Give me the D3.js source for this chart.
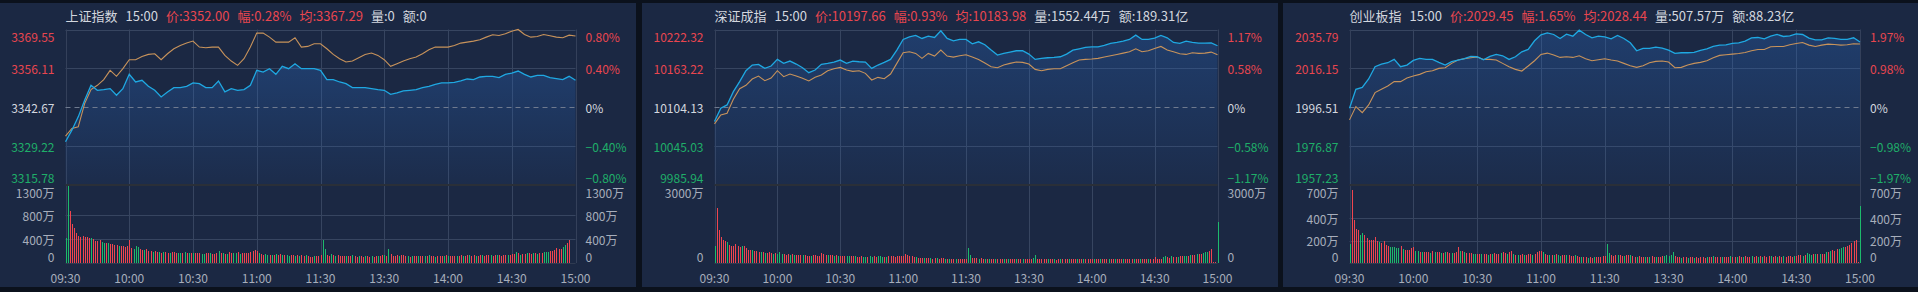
<!DOCTYPE html>
<html>
<head>
<meta charset="utf-8">
<script src="https://cdn.jsdelivr.net/npm/d3@7"></script>
<style>
html, body { margin: 0; padding: 0; background: #0b111c; overflow: hidden; }
svg { display: block; }
text { font-family: "Microsoft YaHei", "Noto Sans CJK SC", sans-serif; }
</style>
</head>
<body>
<svg id="chart"></svg>
<script>
// index names + quote header
const names = ["上证指数", "深证成指", "创业板指"];
const quoteTime = "15:00";
const quotePrice = ["3352.00", "10197.66", "2029.45"];
const quoteChange = ["0.28%", "0.93%", "1.65%"];
const quoteAvg = ["3367.29", "10183.98", "2028.44"];
const quoteVol = ["0", "1552.44万", "507.57万"];
const quoteAmt = ["0", "189.31亿", "88.23亿"];

// x axis: minute index 0..240 (11:30 and 13:00 share one slot)
const timeLabels = ["09:30", "10:00", "10:30", "11:00", "11:30", "13:30", "14:00", "14:30", "15:00"];
const timeTicks = [0, 30, 60, 90, 120, 150, 180, 210, 240];

// price axis ticks (middle one is previous close)
const priceTicks = [
    [3315.78, 3329.22, 3342.67, 3356.11, 3369.55],
    [9985.94, 10045.03, 10104.13, 10163.22, 10222.32],
    [1957.23, 1976.87, 1996.51, 2016.15, 2035.79]
];
// volume ticks, in 万
const volTicks = [[0, 400, 800, 1300], [0, 3000], [0, 200, 400, 700]];

// price / average, sampled every 3 minutes (81 points)
const price1 = [3330.72, 3334.74, 3339.34, 3345.08, 3350.25, 3348.53, 3348.76, 3349.10, 3346.81, 3349.10,
    3354.05, 3351.40, 3351.98, 3349.91, 3348.53, 3346.23, 3347.96, 3349.45, 3349.45, 3349.91,
    3351.06, 3350.83, 3349.45, 3349.45, 3351.75, 3347.96, 3349.10, 3348.53, 3348.76, 3350.25,
    3355.42, 3354.85, 3356.00, 3354.05, 3356.80, 3356.00, 3357.72, 3356.00, 3356.00, 3356.00,
    3355.42, 3352.21, 3352.21, 3351.40, 3350.83, 3349.45, 3349.45, 3349.45, 3349.10, 3348.76,
    3348.53, 3347.15, 3347.61, 3348.30, 3348.53, 3348.76, 3349.45, 3349.91, 3350.60, 3351.06,
    3351.06, 3351.29, 3351.75, 3352.44, 3352.21, 3353.13, 3353.36, 3353.36, 3352.90, 3354.05,
    3354.50, 3355.19, 3354.05, 3353.13, 3353.70, 3353.70, 3352.90, 3352.55, 3352.21, 3353.36,
    3352.00];
const avg1 = [3332.67, 3335.32, 3335.89, 3343.93, 3348.76, 3350.25, 3352.21, 3355.42, 3353.36, 3356.00,
    3359.10, 3359.10, 3360.25, 3360.94, 3361.17, 3359.10, 3361.17, 3362.89, 3364.04, 3364.85,
    3365.54, 3363.47, 3363.24, 3363.47, 3363.47, 3360.59, 3358.64, 3357.15, 3359.45, 3363.47,
    3368.29, 3368.29, 3366.91, 3365.19, 3365.19, 3365.19, 3366.68, 3363.47, 3363.70, 3364.62,
    3364.62, 3362.89, 3360.94, 3359.45, 3358.30, 3358.64, 3359.79, 3360.94, 3361.40, 3360.59,
    3359.10, 3356.80, 3357.72, 3358.64, 3359.45, 3360.02, 3361.17, 3362.55, 3363.47, 3363.47,
    3363.47, 3364.04, 3364.85, 3365.19, 3365.54, 3365.99, 3366.91, 3367.72, 3367.49, 3368.06,
    3368.98, 3369.56, 3367.83, 3366.91, 3367.14, 3367.83, 3367.37, 3366.91, 3366.68, 3367.60,
    3367.29];
const price2 = [10082.41, 10102.61, 10107.67, 10127.87, 10143.02, 10159.69, 10168.28, 10169.29, 10163.23, 10166.76,
    10176.86, 10170.80, 10174.34, 10169.79, 10164.24, 10156.66, 10160.70, 10169.29, 10170.80, 10172.82,
    10175.85, 10170.80, 10174.34, 10173.33, 10172.82, 10163.23, 10168.28, 10172.32, 10176.86, 10191.01,
    10207.17, 10211.21, 10213.23, 10208.69, 10212.22, 10210.20, 10220.30, 10208.69, 10205.15, 10207.17,
    10207.17, 10200.60, 10203.63, 10199.09, 10191.01, 10183.43, 10185.96, 10187.98, 10190.00, 10190.00,
    10184.95, 10176.86, 10178.38, 10179.39, 10179.90, 10180.91, 10184.95, 10191.01, 10193.03, 10195.05,
    10196.06, 10196.06, 10198.08, 10201.11, 10202.62, 10204.64, 10207.17, 10213.74, 10207.17, 10207.17,
    10209.19, 10213.23, 10209.70, 10202.62, 10201.11, 10204.64, 10202.62, 10201.61, 10201.61, 10202.12,
    10197.66];
const avg2 = [10078.87, 10092.51, 10095.04, 10116.25, 10132.42, 10137.47, 10147.06, 10151.61, 10144.54, 10148.58,
    10159.69, 10150.60, 10154.64, 10151.61, 10148.07, 10144.03, 10149.59, 10153.12, 10159.69, 10162.72,
    10164.74, 10160.70, 10158.68, 10159.69, 10155.65, 10145.55, 10149.59, 10147.57, 10154.64, 10170.80,
    10186.97, 10188.48, 10185.96, 10178.38, 10185.96, 10181.92, 10191.01, 10181.92, 10180.40, 10182.42,
    10183.94, 10180.40, 10176.86, 10171.31, 10165.75, 10164.24, 10168.28, 10170.80, 10172.82, 10172.32,
    10169.79, 10161.71, 10159.69, 10161.71, 10162.72, 10162.72, 10167.27, 10171.81, 10175.85, 10176.86,
    10177.37, 10178.38, 10180.40, 10182.42, 10184.44, 10186.46, 10188.48, 10193.03, 10188.48, 10190.00,
    10193.53, 10196.56, 10191.01, 10188.48, 10185.45, 10184.44, 10186.97, 10185.96, 10186.46, 10187.98,
    10183.98];
const price3 = [1996.01, 2005.57, 2006.58, 2010.78, 2016.99, 2018.33, 2019.00, 2020.68, 2016.99, 2017.83,
    2020.18, 2021.19, 2020.68, 2020.68, 2019.17, 2017.83, 2019.51, 2020.35, 2021.02, 2022.19,
    2022.03, 2020.52, 2022.19, 2023.20, 2022.53, 2020.68, 2022.03, 2024.54, 2025.72, 2030.08,
    2033.11, 2034.11, 2033.27, 2031.26, 2033.44, 2032.43, 2035.46, 2033.27, 2031.59, 2032.43,
    2032.10, 2031.09, 2032.77, 2031.26, 2029.08, 2025.05, 2026.22, 2026.22, 2026.89, 2026.39,
    2025.38, 2023.70, 2024.04, 2024.04, 2024.21, 2025.22, 2026.06, 2027.23, 2027.90, 2028.07,
    2028.74, 2029.08, 2029.92, 2031.59, 2031.76, 2031.09, 2032.43, 2033.27, 2032.27, 2032.60,
    2033.61, 2033.27, 2031.43, 2030.59, 2030.59, 2031.59, 2031.26, 2030.76, 2030.76, 2031.59,
    2029.45];
const avg3 = [1990.13, 1996.85, 1993.82, 1997.69, 2003.90, 2005.57, 2007.25, 2009.44, 2009.44, 2011.28,
    2012.29, 2013.13, 2014.47, 2014.98, 2016.15, 2016.49, 2018.67, 2020.35, 2021.02, 2021.52,
    2021.86, 2020.68, 2020.68, 2020.35, 2018.67, 2016.99, 2015.65, 2014.81, 2017.33, 2020.01,
    2023.20, 2023.87, 2022.87, 2021.69, 2022.03, 2021.69, 2022.53, 2021.02, 2020.01, 2020.52,
    2021.02, 2020.35, 2019.84, 2018.67, 2017.49, 2016.65, 2017.49, 2019.00, 2019.68, 2019.84,
    2019.34, 2016.49, 2016.65, 2017.83, 2018.67, 2019.17, 2020.01, 2021.52, 2022.70, 2023.03,
    2023.37, 2023.70, 2024.21, 2025.05, 2025.72, 2025.72, 2027.06, 2027.23, 2027.23, 2028.07,
    2028.74, 2029.24, 2027.90, 2027.23, 2027.90, 2028.41, 2028.24, 2027.90, 2028.07, 2028.57,
    2028.44];

// per-minute volume in 万, 241 values; sign = tick direction (+ up / - down)
const vol1 = [-417,-1290,870,655,585,500,455,440,445,430, 440,420,-410,395,370,360,385,-345,-340,335,
    -330,320,315,300,295,-290,280,275,270,285, 375,255,-240,-280,-265,225,215,-210,230,205,
    195,-190,205,185,-180,175,-185,190,170,-175, 180,185,170,-175,-160,165,-190,175,-165,170,
    -160,175,165,160,-155,-150,165,170,-160,155, 150,165,-200,160,-175,155,-150,185,175,-160,
    -165,180,-150,165,170,175,160,185,205,210, 195,-175,150,140,-145,-135,140,-130,135,-145,
    135,155,-130,125,-140,-120,135,130,-115,125, -120,130,110,-125,115,105,100,-110,115,120,
    125,-390,-230,135,115,-145,130,-110,125,120, 120,115,-120,120,110,-125,115,105,-110,115,
    105,-120,110,100,-115,105,110,-120,115,125, -130,120,-240,150,115,110,125,-120,130,135,
    115,-110,105,-115,120,110,-115,115,120,-110, 110,-125,120,115,-105,120,115,110,-120,125,
    -120,115,120,115,-110,120,125,-115,120,130, -135,120,125,-120,115,130,-125,120,125,130,
    -125,120,130,-135,125,120,130,135,-140,125, 145,150,-185,160,-140,155,150,-175,160,155,
    -165,170,-155,160,175,-180,-185,-190,200,195, 210,250,230,240,-260,-300,330,390,0,0,
    0];
const vol2 = [-665,2115,1280,990,900,835,-795,705,665,665, 745,640,615,-665,660,575,515,510,-500,475,
    450,440,-420,430,-400,395,410,370,-360,380, -345,-420,-360,330,325,335,-310,340,-325,300,
    310,295,-300,305,285,280,-275,290,300,270, 280,385,330,315,-300,320,295,-270,290,-285,
    280,270,260,-275,-265,250,270,-255,240,245, 250,-240,-245,230,-255,-240,250,235,-260,-250,
    -245,240,-235,250,265,255,245,260,250,270, 265,345,290,270,255,220,-215,210,200,195,
    -190,180,175,-185,170,190,-175,165,180,175, -160,155,-170,150,145,-140,150,140,135,145,
    150,-575,-320,210,180,190,-165,175,160,-155, 160,-170,150,155,-160,165,150,145,-155,150,
    -145,150,160,145,-150,140,155,-150,145,140, 150,145,-180,-320,170,165,150,140,145,-150,
    135,140,-145,130,140,-150,135,145,140,-135, 145,140,150,-145,135,140,-150,145,140,135,
    145,-150,140,135,-145,150,140,145,-155,150, 140,-145,150,135,145,-140,150,145,140,150,
    -145,155,150,-150,145,160,150,-155,150,160, 215,150,170,165,-230,-260,220,210,-250,240,
    235,-245,260,250,-270,-280,275,-290,300,310, -330,340,350,-385,-410,-420,480,540,5,5,
    -1580];
const vol3 = [-173,658,389,305,293,-254,-269,248,224,209, 209,203,233,194,-185,179,194,164,155,-143,
    -143,-143,-134,-134,155,-125,120,120,120,134, 140,-105,-110,100,-95,98,100,95,-92,105,
    -95,95,100,-92,90,-98,95,92,-88,90, 95,143,-110,105,-98,90,92,88,-85,-82,
    82,80,-85,78,80,-76,78,-82,88,85, 80,-90,95,88,-85,100,105,-85,75,-70,
    75,80,-72,70,78,82,-75,80,95,110, 108,-100,85,75,-70,68,-72,80,-70,-65,
    70,75,-72,68,62,65,-70,62,58,-55, 52,50,-48,55,48,-50,52,55,58,60,
    65,-173,-90,70,65,72,-68,70,65,-62, 70,75,-68,62,58,-55,60,58,55,-52,
    55,-58,60,55,-52,58,55,62,-65,-68, -60,-75,-96,62,55,50,-48,52,50,-48,
    50,52,-48,50,48,52,50,48,-52,50, 55,-60,52,50,55,-58,52,55,50,-62,
    58,55,-52,60,58,-55,62,58,55,-60, 55,60,-58,62,-55,60,58,62,-60,58,
    62,-58,60,55,-62,58,60,65,58,-62, 60,75,68,-65,70,-90,-80,-75,80,-82,
    78,-85,80,82,-95,100,-110,115,105,126, -130,-135,-140,145,155,165,180,200,205,10,
    -508];

const prices = [price1, price2, price3];
const avgs = [avg1, avg2, avg3];
const vols = [vol1, vol2, vol3];

// layout
const width = 1918, height = 292;
const panelX = [0, 642, 1283], panelW = [636, 636, 635];
const plotLeft = [65.5, 714.5, 1349.5], plotRight = [575.5, 1217.5, 1860];
const plotTop = 29.5, plotMid = 185, plotBottom = 263;
const red = "#e9464f", green = "#1fae69", gray = "#a7aebb", light = "#d3d7df";
const gridColor = "#374560";

const svg = d3.select("#chart").attr("width", width).attr("height", height);
svg.append("rect").attr("width", width).attr("height", height).attr("fill", "#0b111c");
const defs = svg.append("defs");

const pctFmt = d3.format(".2f");

const drawPanel = function(i) {
    const g = svg.append("g");
    const left = plotLeft[i], right = plotRight[i];
    const ticks = priceTicks[i];
    const pre = ticks[2];

    g.append("rect")
        .attr("x", panelX[i]).attr("y", 3)
        .attr("width", panelW[i]).attr("height", 284)
        .attr("fill", "#1b2843");

    const x = d3.scaleLinear().domain([0, 240]).range([left, right]);
    const y = d3.scaleLinear().domain([ticks[0], ticks[4]]).range([plotMid, plotTop]);
    const vt = volTicks[i];
    const yv = d3.scaleLinear().domain([0, vt[vt.length - 1]]).range([plotBottom, plotMid]);

    // grid
    [ticks[1], ticks[3], ticks[4]].forEach(t => {
        g.append("line").attr("x1", left).attr("x2", right)
            .attr("y1", Math.round(y(t)) + 0.5).attr("y2", Math.round(y(t)) + 0.5)
            .attr("stroke", gridColor);
    });
    vt.slice(1, -1).forEach(t => {
        g.append("line").attr("x1", left).attr("x2", right)
            .attr("y1", Math.round(yv(t)) + 0.5).attr("y2", Math.round(yv(t)) + 0.5)
            .attr("stroke", gridColor);
    });
    g.append("line").attr("x1", left).attr("x2", right)
        .attr("y1", plotBottom + 0.5).attr("y2", plotBottom + 0.5).attr("stroke", "#2f3a50");
    timeTicks.forEach(t => {
        g.append("line")
            .attr("x1", Math.round(x(t)) + 0.5).attr("x2", Math.round(x(t)) + 0.5)
            .attr("y1", plotTop).attr("y2", plotBottom)
            .attr("stroke", (t === 0 || t === 240) ? "#34405a" : gridColor);
    });

    // area under price
    const gradId = "grad" + i;
    const grad = defs.append("linearGradient").attr("id", gradId)
        .attr("x1", 0).attr("y1", 0).attr("x2", 0).attr("y2", 1);
    grad.append("stop").attr("offset", "0%").attr("stop-color", "#2a6bc4").attr("stop-opacity", 0.32);
    grad.append("stop").attr("offset", "100%").attr("stop-color", "#2a6bc4").attr("stop-opacity", 0.06);

    const data = prices[i];
    const area = d3.area()
        .x((d, k) => x(k * 3))
        .y0(plotMid)
        .y1(d => y(d));
    g.append("path").datum(data).attr("d", area).attr("fill", "url(#" + gradId + ")");

    // zero line (previous close)
    g.append("line").attr("x1", left).attr("x2", right)
        .attr("y1", Math.round(y(pre)) + 0.5).attr("y2", Math.round(y(pre)) + 0.5)
        .attr("stroke", "#6f7a8f").attr("stroke-dasharray", "5,4");

    // separator between price and volume
    g.append("line").attr("x1", left).attr("x2", right)
        .attr("y1", plotMid).attr("y2", plotMid)
        .attr("stroke", "#2a2f38").attr("stroke-width", 2);

    const line = d3.line().x((d, k) => x(k * 3)).y(d => y(d));
    g.append("path").datum(avgs[i]).attr("d", line)
        .attr("fill", "none").attr("stroke", "#c8935b").attr("stroke-width", 1.1);
    g.append("path").datum(data).attr("d", line)
        .attr("fill", "none").attr("stroke", "#1fa8e2").attr("stroke-width", 1.3);

    // volume bars
    const bars = g.append("g").attr("shape-rendering", "crispEdges");
    vols[i].forEach((v, m) => {
        if (v === 0) return;
        const h = Math.max(1, Math.round(plotBottom - yv(Math.abs(v))));
        bars.append("rect")
            .attr("x", Math.round(x(m)))
            .attr("y", plotBottom - h)
            .attr("width", 1)
            .attr("height", h)
            .attr("fill", v > 0 ? "#f0454f" : "#1dba6c");
    });

    // price labels, left and right
    const colorFor = k => k > 2 ? red : (k < 2 ? green : light);
    const shift = k => k === 4 ? 7 : (k === 0 ? -8 : 0);
    ticks.forEach((t, k) => {
        g.append("text")
            .attr("x", left - 11).attr("y", y(t) + shift(k))
            .attr("text-anchor", "end").attr("dominant-baseline", "central")
            .attr("font-size", 12).attr("fill", colorFor(k))
            .text(d3.format(".2f")(t));
        const pct = (t / pre - 1) * 100;
        g.append("text")
            .attr("x", right + 10).attr("y", y(t) + shift(k))
            .attr("dominant-baseline", "central")
            .attr("font-size", 12).attr("fill", colorFor(k))
            .text(k === 2 ? "0%" : pctFmt(pct) + "%");
    });

    // volume labels
    vt.forEach((t, k) => {
        const dy = k === vt.length - 1 ? 7 : (k === 0 ? -7 : 0);
        const label = t === 0 ? "0" : t + "万";
        g.append("text")
            .attr("x", left - 11).attr("y", yv(t) + dy)
            .attr("text-anchor", "end").attr("dominant-baseline", "central")
            .attr("font-size", 12).attr("fill", gray)
            .text(label);
        g.append("text")
            .attr("x", right + 10).attr("y", yv(t) + dy)
            .attr("dominant-baseline", "central")
            .attr("font-size", 12).attr("fill", gray)
            .text(label);
    });

    // time labels
    timeTicks.forEach((t, k) => {
        g.append("text")
            .attr("x", x(t)).attr("y", 277)
            .attr("text-anchor", "middle").attr("dominant-baseline", "central")
            .attr("font-size", 12).attr("fill", gray)
            .text(timeLabels[k]);
    });

    // header
    const parts = [
        [names[i], light],
        [quoteTime, light],
        ["价:" + quotePrice[i], red],
        ["幅:" + quoteChange[i], red],
        ["均:" + quoteAvg[i], red],
        ["量:" + quoteVol[i], light],
        ["额:" + quoteAmt[i], light]
    ];
    let cx = left;
    parts.forEach(p => {
        const t = g.append("text")
            .attr("x", cx).attr("y", 15)
            .attr("dominant-baseline", "central")
            .attr("font-size", 13).attr("fill", p[1])
            .text(p[0]);
        cx += t.node().getComputedTextLength() + 8;
    });
};

[0, 1, 2].forEach(drawPanel);
</script>
</body>
</html>
